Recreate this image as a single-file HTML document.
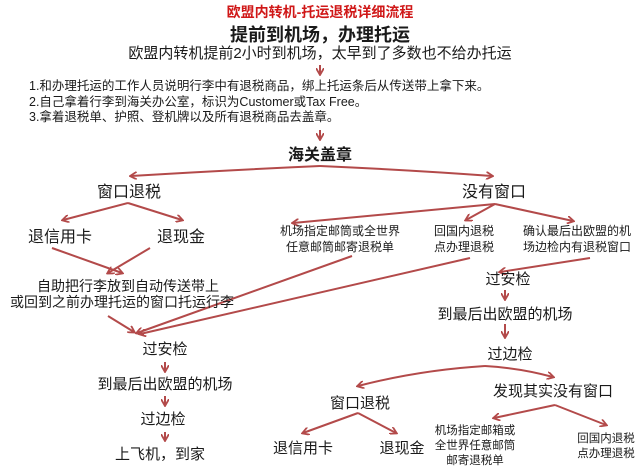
<!DOCTYPE html>
<html><head><meta charset="utf-8"><style>
html,body{margin:0;padding:0;background:#fff;width:640px;height:475px;overflow:hidden}
svg text{font-family:"Liberation Sans","Noto Sans CJK SC",sans-serif;fill:#1a1a1a}
</style></head><body>
<svg width="640" height="475" viewBox="0 0 640 475" xmlns="http://www.w3.org/2000/svg">
<defs><marker id="a" markerWidth="8" markerHeight="8" refX="6" refY="4" orient="auto" markerUnits="userSpaceOnUse"><path d="M0,0 L7,4 L0,8" fill="none" stroke="#b34a4a" stroke-width="1.8"/></marker></defs>
<g stroke="#b34a4a" stroke-width="2" fill="none" marker-end="url(#a)">
<path d="M320,65 L320,74"/>
<path d="M320,130 L320,139"/>
<path d="M320,166 Q230,170 131,176"/>
<path d="M320,166 Q410,170 492,176"/>
<path d="M128,203 L63,220"/>
<path d="M128,203 L182,220"/>
<path d="M495,204 L293,223"/>
<path d="M495,204 L466,220"/>
<path d="M495,204 L573,221"/>
<path d="M52,248 L122,273"/>
<path d="M150,248 L108,273"/>
<path d="M352,256 L137,333"/>
<path d="M470,258 L140,334"/>
<path d="M108,316 L134,332"/>
<path d="M590,258 L500,272"/>
<path d="M505,290 L505,299"/>
<path d="M505,324 L505,337"/>
<path d="M165,362 L165,371"/>
<path d="M165,396 L165,405"/>
<path d="M165,432 L165,440"/>
<path d="M485,366 Q420,370 358,386"/>
<path d="M485,366 Q520,368 553,377"/>
<path d="M358,413 L303,433"/>
<path d="M358,413 L396,433"/>
<path d="M555,405 L494,418"/>
<path d="M555,405 L606,425"/>
</g>
<text x="320" y="17" text-anchor="middle" font-size="14" font-weight="bold" style="fill:#d01818">欧盟内转机-托运退税详细流程</text>
<text x="320" y="41" text-anchor="middle" font-size="18" font-weight="bold">提前到机场，办理托运</text>
<text x="320" y="58" text-anchor="middle" font-size="15">欧盟内转机提前2小时到机场，太早到了多数也不给办托运</text>
<text x="29" y="90" font-size="12.5">1.和办理托运的工作人员说明行李中有退税商品，绑上托运条后从传送带上拿下来。</text>
<text x="29" y="106" font-size="12.5">2.自己拿着行李到海关办公室，标识为Customer或Tax Free。</text>
<text x="29" y="121" font-size="12.5">3.拿着退税单、护照、登机牌以及所有退税商品去盖章。</text>
<text x="320" y="160" text-anchor="middle" font-size="16" font-weight="bold">海关盖章</text>
<text x="129" y="197" text-anchor="middle" font-size="16">窗口退税</text>
<text x="494" y="197" text-anchor="middle" font-size="16">没有窗口</text>
<text x="60" y="242" text-anchor="middle" font-size="16">退信用卡</text>
<text x="181" y="242" text-anchor="middle" font-size="16">退现金</text>
<text x="340" y="235" text-anchor="middle" font-size="12">机场指定邮筒或全世界</text>
<text x="340" y="251" text-anchor="middle" font-size="12">任意邮筒邮寄退税单</text>
<text x="464" y="235" text-anchor="middle" font-size="12">回国内退税</text>
<text x="464" y="251" text-anchor="middle" font-size="12">点办理退税</text>
<text x="577" y="235" text-anchor="middle" font-size="12">确认最后出欧盟的机</text>
<text x="577" y="251" text-anchor="middle" font-size="12">场边检内有退税窗口</text>
<text x="128" y="291" text-anchor="middle" font-size="14">自助把行李放到自动传送带上</text>
<text x="122" y="307" text-anchor="middle" font-size="14">或回到之前办理托运的窗口托运行李</text>
<text x="508" y="284" text-anchor="middle" font-size="15">过安检</text>
<text x="505" y="319" text-anchor="middle" font-size="15">到最后出欧盟的机场</text>
<text x="510" y="359" text-anchor="middle" font-size="15">过边检</text>
<text x="165" y="354" text-anchor="middle" font-size="15">过安检</text>
<text x="165" y="389" text-anchor="middle" font-size="15">到最后出欧盟的机场</text>
<text x="163" y="424" text-anchor="middle" font-size="15">过边检</text>
<text x="160" y="459" text-anchor="middle" font-size="15">上飞机，到家</text>
<text x="553" y="396" text-anchor="middle" font-size="15">发现其实没有窗口</text>
<text x="360" y="408" text-anchor="middle" font-size="15">窗口退税</text>
<text x="303" y="453" text-anchor="middle" font-size="15">退信用卡</text>
<text x="402" y="453" text-anchor="middle" font-size="15">退现金</text>
<text x="475" y="434" text-anchor="middle" font-size="11.5">机场指定邮箱或</text>
<text x="475" y="449" text-anchor="middle" font-size="11.5">全世界任意邮筒</text>
<text x="475" y="464" text-anchor="middle" font-size="11.5">邮寄退税单</text>
<text x="606" y="442" text-anchor="middle" font-size="11.5">回国内退税</text>
<text x="606" y="457" text-anchor="middle" font-size="11.5">点办理退税</text>
</svg>
</body></html>
